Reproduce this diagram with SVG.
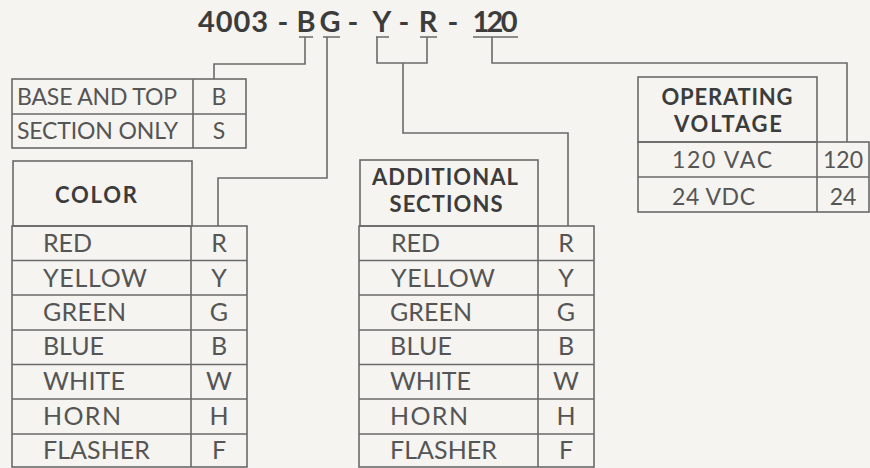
<svg xmlns="http://www.w3.org/2000/svg" width="870" height="468" viewBox="0 0 870 468">
<style>
.bg{fill:#f5f4f0}
.box{fill:none;stroke:#6a6a6a;stroke-width:1.6}
.wire{fill:none;stroke:#6a6a6a;stroke-width:1.6}
.t{font-family:Lato,"Liberation Sans",sans-serif;font-size:25px;fill:#555}
.s{font-family:Lato,"Liberation Sans",sans-serif;font-size:23px;fill:#555}
.c{text-anchor:middle}
.h{font-family:Lato,"Liberation Sans",sans-serif;font-weight:bold;font-size:22px;fill:#3c3c3c;text-anchor:middle}
.title{font-family:Lato,"Liberation Sans",sans-serif;font-weight:bold;font-size:29px;fill:#3c3c3c;text-anchor:middle}
</style>
<rect class="bg" x="0" y="0" width="870" height="468"/>

<g id="title">
<text class="title" x="233" y="32" textLength="70">4003</text>
<text class="title" x="283" y="32">-</text>
<text class="title" x="306" y="32">B</text>
<text class="title" x="330" y="32">G</text>
<text class="title" x="353" y="32">-</text>
<text class="title" x="382" y="32">Y</text>
<text class="title" x="404" y="32">-</text>
<text class="title" x="428" y="32">R</text>
<text class="title" x="453" y="32">-</text>
<text class="title" x="495" y="32" textLength="45">120</text>
<path class="wire" d="M299,37H313 M323,37H340 M376,37H389 M420,37H437 M473,37H518"/>
</g>

<g id="connectors">
<path class="wire" d="M305,37V64H214V79"/>
<path class="wire" d="M327,37V178H218V226"/>
<path class="wire" d="M377,37V63H427V37 M403,63V133H568V226"/>
<path class="wire" d="M492,37V63H847V142"/>
</g>

<g id="base-table">
<rect class="box" x="12" y="79" width="234" height="69"/>
<path class="box" d="M12,114H246 M193,79V148"/>
<text class="s" x="17" y="105" textLength="160">BASE AND TOP</text>
<text class="s" x="17" y="139" textLength="161">SECTION ONLY</text>
<text class="s c" x="219" y="105">B</text>
<text class="s c" x="219" y="139">S</text>
</g>

<g id="color-table">
<rect class="box" x="13" y="161" width="179" height="65"/>
<text class="h" x="96" y="203" textLength="82">COLOR</text>
<rect class="box" x="12" y="226" width="235" height="241"/>
<path class="box" d="M191,226V467 M12,260.5H247 M12,295H247 M12,330H247 M12,364.5H247 M12,399H247 M12,434H247"/>
<text class="t" x="43" y="252" textLength="49">RED</text>
<text class="t" x="43" y="287" textLength="104">YELLOW</text>
<text class="t" x="43" y="321" textLength="83">GREEN</text>
<text class="t" x="43" y="355" textLength="61">BLUE</text>
<text class="t" x="43" y="390" textLength="82">WHITE</text>
<text class="t" x="43" y="425" textLength="78">HORN</text>
<text class="t" x="43" y="459" textLength="107">FLASHER</text>
<text class="t c" x="219" y="252">R</text>
<text class="t c" x="219" y="287">Y</text>
<text class="t c" x="219" y="321">G</text>
<text class="t c" x="219" y="355">B</text>
<text class="t c" x="219" y="390">W</text>
<text class="t c" x="219" y="425">H</text>
<text class="t c" x="219" y="459">F</text>
</g>

<g id="additional-table">
<rect class="box" x="360" y="160" width="178" height="66"/>
<text class="h" x="445" y="185" textLength="146">ADDITIONAL</text>
<text class="h" x="446" y="212" textLength="113">SECTIONS</text>
<rect class="box" x="359" y="226" width="235" height="241"/>
<path class="box" d="M538,226V467 M359,260.5H594 M359,295H594 M359,330H594 M359,364.5H594 M359,399H594 M359,434H594"/>
<text class="t" x="391" y="252" textLength="49">RED</text>
<text class="t" x="391" y="287" textLength="104">YELLOW</text>
<text class="t" x="390" y="321" textLength="82">GREEN</text>
<text class="t" x="390" y="355" textLength="62">BLUE</text>
<text class="t" x="390" y="390" textLength="81">WHITE</text>
<text class="t" x="390" y="425" textLength="78">HORN</text>
<text class="t" x="390" y="459" textLength="107">FLASHER</text>
<text class="t c" x="566" y="252">R</text>
<text class="t c" x="566" y="287">Y</text>
<text class="t c" x="566" y="321">G</text>
<text class="t c" x="566" y="355">B</text>
<text class="t c" x="566" y="390">W</text>
<text class="t c" x="566" y="425">H</text>
<text class="t c" x="566" y="459">F</text>
</g>

<g id="voltage-table">
<rect class="box" x="638" y="77" width="179" height="65"/>
<text class="h" x="727" y="105" textLength="131">OPERATING</text>
<text class="h" x="728" y="132" textLength="108">VOLTAGE</text>
<rect class="box" x="638" y="142" width="231" height="70"/>
<path class="box" d="M817,142V212 M638,177H869"/>
<text class="s" x="672" y="168" textLength="100">120 VAC</text>
<text class="s" x="672" y="205" textLength="83">24 VDC</text>
<text class="s c" x="843" y="168">120</text>
<text class="s c" x="843" y="205">24</text>
</g>
</svg>
